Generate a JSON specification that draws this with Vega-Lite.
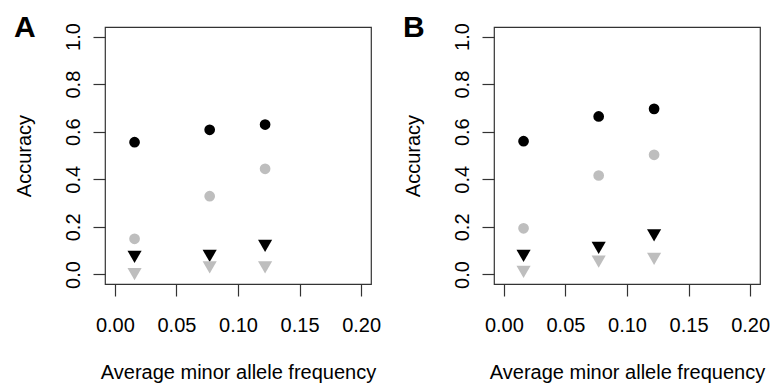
{
  "$schema": "https://vega.github.io/schema/vega-lite/v6.json",
  "background": "white",
  "padding": {"left": 13, "top": 12, "right": 0, "bottom": 0},
  "data": {"values": [
    {"panel": "A", "series": "black circle", "maf": 0.016, "accuracy": 0.556},
    {"panel": "A", "series": "black circle", "maf": 0.077, "accuracy": 0.608},
    {"panel": "A", "series": "black circle", "maf": 0.122, "accuracy": 0.630},
    {"panel": "A", "series": "gray circle", "maf": 0.016, "accuracy": 0.150},
    {"panel": "A", "series": "gray circle", "maf": 0.077, "accuracy": 0.329},
    {"panel": "A", "series": "gray circle", "maf": 0.122, "accuracy": 0.444},
    {"panel": "A", "series": "black triangle", "maf": 0.016, "accuracy": 0.074},
    {"panel": "A", "series": "black triangle", "maf": 0.077, "accuracy": 0.078},
    {"panel": "A", "series": "black triangle", "maf": 0.122, "accuracy": 0.120},
    {"panel": "A", "series": "gray triangle", "maf": 0.016, "accuracy": 0.001},
    {"panel": "A", "series": "gray triangle", "maf": 0.077, "accuracy": 0.030},
    {"panel": "A", "series": "gray triangle", "maf": 0.122, "accuracy": 0.030},
    {"panel": "B", "series": "black circle", "maf": 0.016, "accuracy": 0.560},
    {"panel": "B", "series": "black circle", "maf": 0.077, "accuracy": 0.664},
    {"panel": "B", "series": "black circle", "maf": 0.122, "accuracy": 0.696},
    {"panel": "B", "series": "gray circle", "maf": 0.016, "accuracy": 0.194},
    {"panel": "B", "series": "gray circle", "maf": 0.077, "accuracy": 0.416},
    {"panel": "B", "series": "gray circle", "maf": 0.122, "accuracy": 0.503},
    {"panel": "B", "series": "black triangle", "maf": 0.016, "accuracy": 0.078},
    {"panel": "B", "series": "black triangle", "maf": 0.077, "accuracy": 0.112},
    {"panel": "B", "series": "black triangle", "maf": 0.122, "accuracy": 0.164},
    {"panel": "B", "series": "gray triangle", "maf": 0.016, "accuracy": 0.011},
    {"panel": "B", "series": "gray triangle", "maf": 0.077, "accuracy": 0.054},
    {"panel": "B", "series": "gray triangle", "maf": 0.122, "accuracy": 0.066}
  ]},
  "hconcat": [
    {
      "title": {"text": "A"},
      "width": 266, "height": 257,
      "transform": [{"filter": "datum.panel == 'A'"}],
      "mark": {"type": "point", "filled": true, "opacity": 1},
      "encoding": {
        "x": {"field": "maf", "type": "quantitative", "title": "Average minor allele frequency",
              "scale": {"domain": [-0.008, 0.208], "nice": false, "zero": false},
              "axis": {"values": [0, 0.05, 0.1, 0.15, 0.2], "format": ".2f"}},
        "y": {"field": "accuracy", "type": "quantitative", "title": "Accuracy",
              "scale": {"domain": [-0.04, 1.04], "nice": false, "zero": false},
              "axis": {"values": [0, 0.2, 0.4, 0.6, 0.8, 1.0], "format": ".1f", "labelAngle": -90, "labelAlign": "center", "labelBaseline": "alphabetic", "labelPadding": 14, "titlePadding": 29}},
        "color": {"field": "series", "type": "nominal", "legend": null,
                  "scale": {"domain": ["black circle", "gray circle", "black triangle", "gray triangle"], "range": ["#000000", "#bebebe", "#000000", "#bebebe"]}},
        "shape": {"field": "series", "type": "nominal", "legend": null,
                  "scale": {"domain": ["black circle", "gray circle", "black triangle", "gray triangle"], "range": ["circle", "circle", "triangle-down", "triangle-down"]}},
        "size": {"field": "series", "type": "nominal", "legend": null,
                  "scale": {"type": "ordinal", "domain": ["black circle", "gray circle", "black triangle", "gray triangle"], "range": [115, 115, 200, 200]}}
      }
    },
    {
      "title": {"text": "B"},
      "width": 266, "height": 257,
      "transform": [{"filter": "datum.panel == 'B'"}],
      "mark": {"type": "point", "filled": true, "opacity": 1},
      "encoding": {
        "x": {"field": "maf", "type": "quantitative", "title": "Average minor allele frequency",
              "scale": {"domain": [-0.008, 0.208], "nice": false, "zero": false},
              "axis": {"values": [0, 0.05, 0.1, 0.15, 0.2], "format": ".2f"}},
        "y": {"field": "accuracy", "type": "quantitative", "title": "Accuracy",
              "scale": {"domain": [-0.04, 1.04], "nice": false, "zero": false},
              "axis": {"values": [0, 0.2, 0.4, 0.6, 0.8, 1.0], "format": ".1f", "labelAngle": -90, "labelAlign": "center", "labelBaseline": "alphabetic", "labelPadding": 14, "titlePadding": 29}},
        "color": {"field": "series", "type": "nominal", "legend": null,
                  "scale": {"domain": ["black circle", "gray circle", "black triangle", "gray triangle"], "range": ["#000000", "#bebebe", "#000000", "#bebebe"]}},
        "shape": {"field": "series", "type": "nominal", "legend": null,
                  "scale": {"domain": ["black circle", "gray circle", "black triangle", "gray triangle"], "range": ["circle", "circle", "triangle-down", "triangle-down"]}},
        "size": {"field": "series", "type": "nominal", "legend": null,
                  "scale": {"type": "ordinal", "domain": ["black circle", "gray circle", "black triangle", "gray triangle"], "range": [115, 115, 200, 200]}}
      }
    }
  ],
  "spacing": 123,
  "bounds": "flush",
  "config": {
    "font": "Liberation Sans",
    "view": {"stroke": "#333333", "strokeWidth": 1.2},
    "axis": {
      "domain": false, "grid": false, "tickSize": 12, "tickColor": "#333333", "tickWidth": 1.2,
      "labelFontSize": 20, "labelColor": "#000000", "labelFlush": false, "labelOverlap": false,
      "titleFontSize": 20, "titleFontWeight": "normal", "titleColor": "#000000"
    },
    "axisX": {"labelPadding": 19, "labelBaseline": "top", "titlePadding": 27},
    "title": {"anchor": "start", "frame": "bounds", "fontSize": 30, "fontWeight": "bold", "color": "#000000", "offset": -20, "baseline": "alphabetic"}
  }
}
